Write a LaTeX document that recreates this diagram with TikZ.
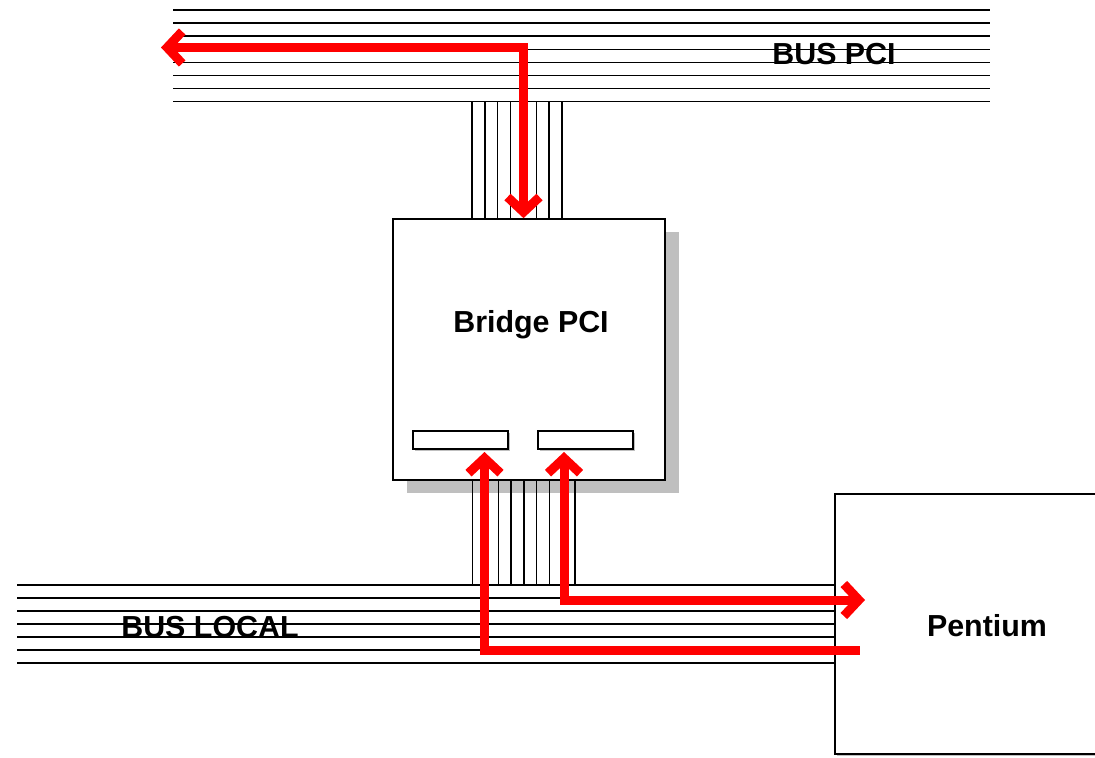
\documentclass[tikz,border=0pt]{standalone}
\usepackage{fontspec}
\setmainfont{Liberation Sans}
\usetikzlibrary{arrows.meta, positioning, shadows}

\begin{document}
\begin{tikzpicture}[
    x=0.5pt, y=-0.5pt,
    >={Straight Barb[length=7.5pt, width=16pt]},
    box/.style={draw, line width=0.8pt, fill=white, inner sep=0pt},
    bridgebox/.style={box, minimum width=136pt, minimum height=130.5pt,
                general shadow={fill=black!25, shadow xshift=6.75pt, shadow yshift=-6.5pt}},
    slot/.style={box, line width=0.7pt, minimum width=47.5pt, minimum height=9pt,
                general shadow={fill=black!25, shadow xshift=0.8pt, shadow yshift=-0.8pt}},
    wire/.style={line width=0.75pt},
    signal/.style={draw=red, line width=4.5pt},
    txt/.style={font=\fontsize{15.2}{18}\selectfont\bfseries}
]
\clip (0,0) rectangle (1095,758);

% Buses
\foreach \i in {0,...,7}
    \draw[wire] (173,{10+13.1*\i}) -- (990,{10+13.1*\i});
\foreach \i in {0,...,6}
    \draw[wire] (17,{585+13*\i}) -- (835,{585+13*\i});

% Bridge and CPU
\node[bridgebox] (bridge) at (529,349.5) {};
\node[slot] (slotA) at (460.5,440) {};
\node[slot] (slotB) at (585.5,440) {};
\node[box, minimum width=151pt, minimum height=130pt,
      general shadow={fill=black!25, shadow xshift=0.8pt, shadow yshift=-0.8pt}]
      (pentium) at (986,624) {};

% Bus taps
\foreach \i in {0,...,7}
    \draw[wire] ({472+12.86*\i},101.7) -- ({472+12.86*\i},219);
\foreach \i in {0,...,8}
    \draw[wire] ({472.7+12.8*\i},480.5) -- ({472.7+12.8*\i},585);

% Labels
\node[txt] (pcilabel) at (834,54.5) {BUS PCI};
\node[txt] (locallabel) at (210,626.7) {BUS LOCAL};
\node[txt, anchor=base] (bridgelabel) at (531,332.7) {Bridge PCI};
\node[txt, anchor=base] (cpulabel) at (987,636.7) {Pentium};

% Transfers
\coordinate (pcileft) at (161,47.5);
\coordinate (pcitap)  at (523.5,47.5);
\coordinate (inA)     at (484.5,452);
\coordinate (inB)     at (564,452);
\coordinate (cpuin)   at (865,600);
\coordinate (cpuout)  at (860,650.5);

\draw[signal, <->] (pcileft) -- (pcitap) -- (pcitap |- bridge.north);
\draw[signal, <->] (inB) |- (cpuin);
\draw[signal, <-]  (inA) |- (cpuout);
\end{tikzpicture}
\end{document}
